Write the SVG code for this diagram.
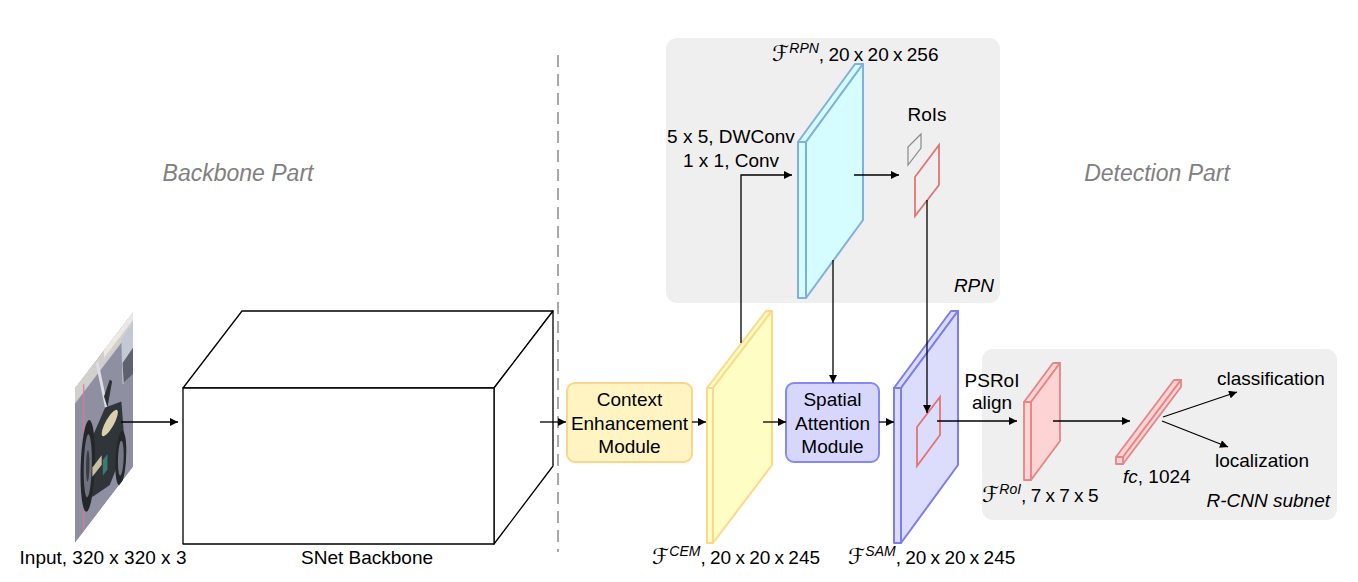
<svg xmlns="http://www.w3.org/2000/svg" width="1358" height="582" viewBox="0 0 1358 582">
<defs>
<marker id="ah" viewBox="0 0 10 10" refX="10" refY="5" markerWidth="10" markerHeight="8" markerUnits="userSpaceOnUse" orient="auto">
<path d="M0,0 L10,5 L0,10 z" fill="#000"/>
</marker>
<clipPath id="imgclip"><rect x="0" y="0" width="100" height="100"/></clipPath>
</defs>
<style>
text{font-family:"Liberation Sans",Arial,sans-serif;font-size:19px;fill:#000}
.title{font-style:italic;font-size:23px;fill:#808080}
.it{font-style:italic}
.sup{font-style:italic;font-size:14px}
.scr{font-family:"DejaVu Serif","DejaVu Sans",serif;font-style:italic;font-size:22px}
.dim{word-spacing:-1px}
.mid{text-anchor:middle}
.end{text-anchor:end}
.conn{fill:none;stroke:#000;stroke-width:1.3}
.arr{marker-end:url(#ah)}
.panel{fill:#efefef;stroke:none}
.blue{fill:#d5fcfe;stroke:#80b0de;stroke-width:2;stroke-linejoin:round}
.yel{fill:#fefec4;stroke:#fcd98a;stroke-width:2;stroke-linejoin:round}
.sam{fill:#dcdcfd;stroke:#7c7cf3;stroke-width:2;stroke-linejoin:round}
.red{fill:#fdd3d3;stroke:#e58585;stroke-width:1.8;stroke-linejoin:round}
.roi{fill:none;stroke:#e07575;stroke-width:1.8}
.roig{fill:none;stroke:#8a8a8a;stroke-width:1.2}
.box{fill:#fff;stroke:#000;stroke-width:1.3;stroke-linejoin:round}
</style>
<rect width="1358" height="582" fill="#fff"/>

<g id="panels">
<rect id="rpn-panel" class="panel" x="666" y="38" width="334" height="265" rx="11"/>
<rect id="rcnn-panel" class="panel" x="982" y="349" width="355" height="171" rx="11"/>
</g>

<line id="divider" x1="558" y1="55" x2="558" y2="552" stroke="#a8a8a8" stroke-width="2" stroke-dasharray="12 7"/>

<text class="title mid" x="238" y="181">Backbone Part</text>
<text class="title mid" x="1157" y="181">Detection Part</text>

<g id="input">
<g transform="matrix(0.58,-0.76,0,1.55,75,388)" clip-path="url(#imgclip)">
<rect x="0" y="0" width="100" height="100" fill="#8e90a2"/>
<rect x="0" y="0" width="100" height="10" fill="#d2cfcc"/>
<rect x="50" y="0" width="50" height="5" fill="#ece9e4"/>
<path d="M80,8 L100,6 L100,40 L82,38 Z" fill="#c3c8d4"/>
<path d="M82,24 L100,23 L100,40 L84,38 Z" fill="#5e626e"/>
<path d="M36,2 L40,2 L57,41 L53,41 Z" fill="#dedee4"/>
<rect x="14" y="5" width="2" height="95" fill="#d87a9a"/>
<path d="M20,50 L52,38 L80,48 L86,80 L60,92 L30,85 Z" fill="#30353a"/>
<ellipse cx="22" cy="61" rx="12.5" ry="29" fill="#25282b"/>
<ellipse cx="22" cy="61" rx="7" ry="20" fill="#707280"/>
<ellipse cx="22" cy="61" rx="3" ry="10" fill="#3a3d44"/>
<ellipse cx="79" cy="84" rx="9.5" ry="17" fill="#25282b"/>
<ellipse cx="79" cy="84" rx="5" ry="11" fill="#767886"/>
<ellipse cx="60" cy="52" rx="14" ry="5" fill="#dacfae"/>
<path d="M50,30 L60,24 L64,27 L56,40 Z" fill="#2c3136"/>
<rect x="48" y="70" width="8" height="10" fill="#3a7a72"/>
<rect x="30" y="66" width="16" height="6" fill="#c9bf9e"/>
</g>
<text x="103" y="564" class="mid">Input, 320 x 320 x 3</text>
</g>

<g id="backbone">
<polygon class="box" points="183,388 242,311 553,311 494,388"/>
<polygon class="box" points="494,388 553,311 553,466 494,544"/>
<rect class="box" x="183" y="388" width="311" height="156"/>
<text x="367" y="564" class="mid">SNet Backbone</text>
</g>

<g id="cem">
<rect x="567" y="383" width="125" height="79" rx="8" fill="#fff4c2" stroke="#f9d68a" stroke-width="2"/>
<text x="629.5" y="406" class="mid">Context</text>
<text x="629.5" y="430" class="mid">Enhancement</text>
<text x="629.5" y="453" class="mid">Module</text>
</g>

<g id="f-cem">
<polygon class="yel" points="707,388 713,388 772,311 766,311"/>
<polygon class="yel" points="713,388 772,311 772,465 713,543"/>
<rect class="yel" x="707" y="388" width="6" height="155"/>
<text x="652" y="564" class="dim"><tspan class="scr">ℱ</tspan><tspan class="sup" dy="-8">CEM</tspan><tspan dy="8">, 20 x 20 x 245</tspan></text>
</g>

<g id="sam">
<rect x="786" y="383" width="93" height="79" rx="8" fill="#d7d7fd" stroke="#8888f5" stroke-width="2"/>
<text x="832.5" y="406" class="mid">Spatial</text>
<text x="832.5" y="430" class="mid">Attention</text>
<text x="832.5" y="453" class="mid">Module</text>
</g>

<g id="f-sam">
<polygon class="sam" points="894,388 901,388 958,311 951,311"/>
<polygon class="sam" points="901,388 958,311 958,465 901,543"/>
<rect class="sam" x="894" y="388" width="7" height="155"/>
<polygon class="roi" points="917,427 940,397 940,435 917,466"/>
<text x="848" y="564" class="dim"><tspan class="scr">ℱ</tspan><tspan class="sup" dy="-8">SAM</tspan><tspan dy="8">, 20 x 20 x 245</tspan></text>
</g>

<g id="f-rpn">
<polygon class="blue" points="798,142 806,142 863,64 855,64"/>
<polygon class="blue" points="806,142 863,64 863,220 806,298"/>
<rect class="blue" x="798" y="142" width="8" height="156"/>
<text x="772" y="61" class="dim"><tspan class="scr">ℱ</tspan><tspan class="sup" dy="-8">RPN</tspan><tspan dy="8">, 20 x 20 x 256</tspan></text>
</g>

<g id="rois">
<polygon class="roig" points="908,147 921,134 921,148 908,165"/>
<polygon class="roi" points="915,177 939,145 939,185 915,216"/>
<text x="927" y="121" class="mid">RoIs</text>
</g>

<text id="conv-label1" x="731" y="143" class="mid">5 x 5, DWConv</text>
<text id="conv-label2" x="731" y="167" class="mid">1 x 1, Conv</text>
<text id="rpn-label" x="994" y="292" class="it end">RPN</text>

<g id="f-roi">
<polygon class="red" points="1024,402 1031,402 1060,363 1053,363"/>
<polygon class="red" points="1031,402 1060,363 1060,441 1031,480"/>
<rect class="red" x="1024" y="402" width="7" height="78"/>
<text x="982" y="502" class="dim"><tspan class="scr">ℱ</tspan><tspan class="sup" dy="-8">RoI</tspan><tspan dy="8">, 7 x 7 x 5</tspan></text>
</g>

<g id="fc">
<polygon class="red" points="1116,457 1123,457 1181,380 1174,380"/>
<polygon class="red" points="1123,457 1181,380 1181,387 1123,464"/>
<rect class="red" x="1116" y="457" width="7" height="7"/>
<text x="1123" y="483"><tspan class="it">fc</tspan>, 1024</text>
</g>

<text id="psroi1" x="992" y="387" class="mid">PSRoI</text>
<text id="psroi2" x="992" y="409" class="mid">align</text>
<text id="cls" x="1217" y="385">classification</text>
<text id="loc" x="1215" y="467">localization</text>
<text id="rcnn-label" x="1330" y="507" class="it end">R-CNN subnet</text>

<g id="connectors">
<line class="conn arr" x1="121" y1="422" x2="178" y2="422"/>
<line class="conn arr" x1="540" y1="422" x2="566" y2="422"/>
<line class="conn arr" x1="692" y1="422" x2="706" y2="422"/>
<line class="conn arr" x1="763" y1="422" x2="786" y2="422"/>
<line class="conn arr" x1="879" y1="422" x2="894" y2="422"/>
<polyline class="conn arr" points="741,343 741,175 792,175"/>
<line class="conn arr" x1="854" y1="175" x2="899" y2="175"/>
<line class="conn arr" x1="833" y1="260" x2="833" y2="383"/>
<line class="conn arr" x1="927" y1="200" x2="927" y2="413"/>
<line class="conn arr" x1="937" y1="421" x2="1017" y2="421"/>
<line class="conn arr" x1="1053" y1="421" x2="1130" y2="421"/>
<line class="conn arr" x1="1163" y1="417" x2="1237" y2="392"/>
<line class="conn arr" x1="1162" y1="421" x2="1228" y2="447"/>
</g>
</svg>
